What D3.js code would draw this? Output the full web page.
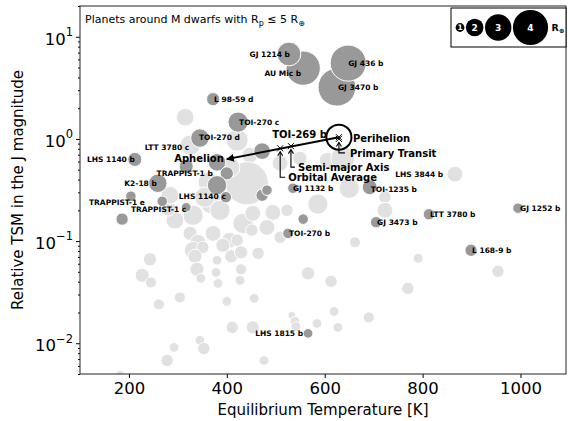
<!DOCTYPE html>
<html><head><meta charset="utf-8">
<script src="https://cdn.jsdelivr.net/npm/d3@7"></script>
<style>
body{margin:0;background:#fff}
text{font-family:"DejaVu Sans",sans-serif}
</style>
</head><body>
<svg id="c" width="568" height="421"></svg>
<script>
// ---- data ----
const namedNames = ["AU Mic b","GJ 1214 b","GJ 3470 b","GJ 436 b","L 98-59 d","TOI-270 c","TOI-270 d","LTT 3780 c","LHS 1140 b","","TRAPPIST-1 b","","K2-18 b","TRAPPIST-1 e","","TRAPPIST-1 c","LHS 1140 c","","","","GJ 1132 b","","TOI-270 b","","TOI-1235 b","GJ 3473 b","LTT 3780 b","GJ 1252 b","L 168-9 b","LHS 1815 b","LHS 3844 b"];
const namedTeq = [556,527,625,648,372,423,345,317,212,380,400,380,259,204,268,317,398,186,472,482,535,556,525,472,692,705,813,995,899,566,740];
const namedTSM = [4.93,6.78,3.21,5.52,2.45,1.46,1.02,0.54,0.63,0.59,0.46,0.352,0.368,0.275,0.245,0.214,0.269,0.164,0.281,0.315,0.329,0.164,0.119,0.759,0.337,0.153,0.183,0.210,0.0813,0.0125,0.452];
const namedRadius = [3.9,2.7,4.3,4.1,1.5,2.3,2.1,1.6,1.6,2.0,1.5,2.2,2.1,1.2,1.2,1.1,1.3,1.4,1.4,1.2,1.2,1.2,1.2,1.9,1.7,1.3,1.3,1.2,1.4,1.1,0];

const otherTeq = [315,421,325,447,509,549,605,637,441,406,362,370,355,386,331,294,280,284,433,453,451,494,482,509,523,406,372,325,341,650,723,723,662,866,586,791,954,566,613,770,619,690,584,627,331,351,335,243,227,245,339,347,380,392,421,409,429,464,429,427,378,382,304,261,400,456,533,539,541,411,453,345,353,292,278,476,182];
const otherTSM = [1.63,0.973,0.869,0.693,0.578,0.647,0.619,0.647,0.368,0.528,0.377,0.240,0.269,0.200,0.179,0.160,0.210,0.281,0.149,0.187,0.128,0.191,0.136,0.109,0.200,0.102,0.119,0.119,0.0973,0.329,0.269,0.200,0.0973,0.452,0.230,0.0678,0.0506,0.0483,0.0404,0.0344,0.0205,0.0179,0.0156,0.0143,0.0813,0.0869,0.0710,0.0662,0.0462,0.0394,0.0530,0.0432,0.0648,0.0910,0.102,0.0710,0.0776,0.0759,0.0530,0.0413,0.0494,0.0385,0.0281,0.0240,0.0257,0.0275,0.0188,0.0164,0.0146,0.0143,0.0143,0.0107,0.00889,0.00910,0.00679,0.00679,0.00484];
const otherRadius = [2.0,2.5,2.3,1.8,1.8,1.6,1.8,2.7,4.9,2.3,2.3,2.7,2.3,2.3,2.3,2.0,1.8,2.0,2.3,1.8,1.4,1.8,1.8,1.4,1.4,1.8,1.8,1.6,1.8,2.3,1.4,1.8,1.25,1.8,2.3,1.1,1.4,1.5,1.4,1.4,1.1,1.25,1.1,1.1,2.0,1.4,1.6,1.5,1.6,1.25,1.6,1.1,1.1,1.6,1.4,1.5,1.5,1.4,1.25,1.1,1.1,1.1,1.25,1.25,1.1,1.1,0.9,1.1,1.1,1.4,1.5,1.1,1.4,1.1,1.4,1.1,1.1];

// TOI-269 b orbit points
const toiNames = ["Perihelion","Primary Transit","Semi-major Axis","Orbital Average","Aphelion"];
const toiTeq = [629,629,531,509,400];
const toiTSM = [1.04,1.0,0.85,0.81,0.634];
const toiRadius = 2.85;

const xTicks = [200,400,600,800,1000];
const yTicks = [0.01,0.1,1,10];
const yTickExp = ["\u22122","\u22121","0","1"];
const legendSizes = [1,2,3,4];

// label placement (anchor, dx, dy in px)
const labelPlace = {
 "AU Mic b":["end",-2,5],"GJ 1214 b":["end",1,0],"GJ 3470 b":["start",1,0],"GJ 436 b":["start",0,0],
 "L 98-59 d":["start",1,0],"TOI-270 c":["start",1,0],"TOI-270 d":["start",-1,-1],"LTT 3780 c":["end",3,-19],
 "LHS 1140 b":["end",0,0],"TRAPPIST-1 b":["end",-14,0],"K2-18 b":["end",-1,0],"TRAPPIST-1 e":["end",14,6],
 "TRAPPIST-1 c":["end",0,2],"LHS 1140 c":["end",0,-1],"GJ 1132 b":["start",0,0],"TOI-270 b":["start",1,0],
 "TOI-1235 b":["start",1,2],"GJ 3473 b":["start",1,0],"LTT 3780 b":["start",1,0],"GJ 1252 b":["start",2,0],
 "L 168-9 b":["start",1,0],"LHS 1815 b":["end",-5,0],"LHS 3844 b":["start",2,0]
};

// ---- chart ----
const L=80,R=566,T=6,B=374;
const svg=d3.select("#c");
const x=d3.scaleLinear().domain([100,1093]).range([L,R]);
const y=d3.scaleLog().domain([0.005,20]).range([B,T]);
const rs=d3.scaleLinear().domain([0,4]).range([0,17.6]);

svg.append("clipPath").attr("id","clip").append("rect").attr("x",L).attr("y",T).attr("width",R-L).attr("height",B-T);
const plot=svg.append("g").attr("clip-path","url(#clip)");

const others=otherTeq.map((t,i)=>({t,v:otherTSM[i],r:otherRadius[i]}));
plot.selectAll("circle.o").data(others).join("circle").attr("class","o")
 .attr("cx",d=>x(d.t)).attr("cy",d=>y(d.v)).attr("r",d=>rs(d.r))
 .attr("fill","#e1e1e1").attr("stroke","#fff").attr("stroke-width",1);

const named=namedNames.map((n,i)=>({n,t:namedTeq[i],v:namedTSM[i],r:namedRadius[i]}));
plot.selectAll("circle.n").data(named.filter(d=>d.r>0)).join("circle").attr("class","n")
 .attr("cx",d=>x(d.t)).attr("cy",d=>y(d.v)).attr("r",d=>rs(d.r))
 .attr("fill","#999999").attr("stroke","#fff").attr("stroke-width",1);

plot.selectAll("text.lab").data(named.filter(d=>d.n)).join("text").attr("class","lab")
 .attr("x",d=>x(d.t)+labelPlace[d.n][1]).attr("y",d=>y(d.v)+labelPlace[d.n][2]).attr("dy","0.35em")
 .attr("text-anchor",d=>labelPlace[d.n][0])
 .attr("font-size",7.5).attr("font-weight","bold").attr("fill","#000").text(d=>d.n);

// TOI-269 b
const tp=toiNames.map((n,i)=>({n,px:x(toiTeq[i]),py:y(toiTSM[i])}));
const defs=svg.append("defs");
defs.append("marker").attr("id","ah").attr("viewBox","0 0 10 10").attr("refX",9).attr("refY",5)
 .attr("markerWidth",4).attr("markerHeight",4).attr("orient","auto-start-reverse")
 .append("path").attr("d","M0,0 L10,5 L0,10 z").attr("fill","#000");
const g2=svg.append("g");
g2.append("line").attr("x1",tp[0].px).attr("y1",tp[0].py).attr("x2",tp[4].px).attr("y2",tp[4].py)
 .attr("stroke","#000").attr("stroke-width",2).attr("marker-end","url(#ah)");
g2.append("circle").attr("cx",tp[0].px).attr("cy",tp[0].py).attr("r",rs(toiRadius))
 .attr("fill","none").attr("stroke","#000").attr("stroke-width",2);
[0,1,2,3].forEach(i=>{
  const p=tp[i],s=3;
  g2.append("path").attr("d",`M${p.px-s},${p.py-s}L${p.px+s},${p.py+s}M${p.px-s},${p.py+s}L${p.px+s},${p.py-s}`)
   .attr("stroke","#000").attr("stroke-width",1);
});
// connectors: [index, drop, label dx]
function connector(p,drop,run){
  const x0=p.px,y0=p.py+3.5,y1=p.py+drop;
  g2.append("path").attr("d",`M${x0+run},${y1}L${x0},${y1}L${x0},${y0}`).attr("fill","none").attr("stroke","#000").attr("stroke-width",1.1);
  g2.append("path").attr("d",`M${x0-2.5},${y0+4}L${x0},${y0}L${x0+2.5},${y0+4}`).attr("fill","none").attr("stroke","#000").attr("stroke-width",1.1);
}
connector(tp[1],14,6);
connector(tp[2],21,4);
connector(tp[3],29,5);
const big=(t,xx,yy,anchor)=>g2.append("text").attr("x",xx).attr("y",yy).attr("dy","0.35em").attr("text-anchor",anchor||"start")
 .attr("font-size",10).attr("font-weight","bold").text(t);
big("TOI-269 b",tp[0].px-12,tp[0].py-3,"end");
big(toiNames[0],tp[0].px+14,tp[0].py+1);
big(toiNames[1],tp[1].px+11,tp[1].py+15);
big(toiNames[2],tp[2].px+7,tp[2].py+21);
big(toiNames[3],tp[3].px+8,tp[3].py+29);
big(toiNames[4],tp[4].px-3,tp[4].py-1,"end");

// axes
const xa=svg.append("g").attr("transform",`translate(0,${B})`)
 .call(d3.axisBottom(x).tickValues(xTicks).tickSize(4).tickPadding(4).tickFormat(d3.format("d")));
xa.select(".domain").remove();
xa.selectAll("text").attr("font-size",16.5).attr("fill","#000").style("font-family","DejaVu Sans");
xa.selectAll("line").attr("stroke","#000");

const minor=[];
for(let e=-3;e<=1;e++)for(let k=2;k<=9;k++){const v=k*Math.pow(10,e);if(v>=0.005&&v<=20)minor.push(v);}
const ym=svg.append("g").attr("transform",`translate(${L},0)`).call(d3.axisLeft(y).tickValues(minor).tickSize(2).tickFormat(""));
ym.select(".domain").remove(); ym.selectAll("line").attr("stroke","#000");
const ya=svg.append("g").attr("transform",`translate(${L},0)`).call(d3.axisLeft(y).tickValues(yTicks).tickSize(4).tickFormat(""));
ya.select(".domain").remove(); ya.selectAll("line").attr("stroke","#000");
ya.selectAll(".tick").each(function(d,i){
  const t=d3.select(this).append("text").attr("x",-7).attr("y",0).attr("dy","0.45em").attr("text-anchor","end")
   .attr("fill","#000").attr("font-size",16.5).style("font-family","DejaVu Sans");
  t.append("tspan").text("10");
  t.append("tspan").attr("font-size",11.5).attr("dy","-0.75em").text(yTickExp[i]);
});

svg.append("rect").attr("x",L).attr("y",T).attr("width",R-L).attr("height",B-T).attr("fill","none").attr("stroke","#222").attr("stroke-width",1);

svg.append("text").attr("x",(L+R)/2).attr("y",415).attr("text-anchor","middle").attr("font-size",15).text("Equilibrium Temperature [K]");
svg.append("text").attr("transform",`translate(23,${(T+B)/2}) rotate(-90)`).attr("text-anchor","middle").attr("font-size",15).text("Relative TSM in the J magnitude");

// title
const tt=svg.append("text").attr("x",85).attr("y",23).attr("font-size",11);
tt.append("tspan").text("Planets around M dwarfs with R");
tt.append("tspan").attr("font-size",8).attr("dy",2.5).text("p");
tt.append("tspan").attr("dy",-2.5).text(" \u2264 5 R");
tt.append("tspan").attr("font-size",8).attr("dy",2.5).text("\u2295");

// legend
const lg=svg.append("g");
lg.append("rect").attr("x",451).attr("y",8).attr("width",115).attr("height",39).attr("fill","#fff").attr("stroke","#000").attr("stroke-width",1);
let cx=455.6;const cy=27.5;
legendSizes.forEach(s=>{
  const rr=rs(s);cx+=rr;
  lg.append("circle").attr("cx",cx).attr("cy",cy).attr("r",rr).attr("fill","#000");
  lg.append("text").attr("x",cx).attr("y",cy).attr("dy","0.35em").attr("text-anchor","middle")
   .attr("fill","#fff").attr("font-weight","bold").attr("font-size",s===1?7.5:9).text(s);
  cx+=rr+1.5;
});
const lr=lg.append("text").attr("x",cx+2).attr("y",cy).attr("dy","0.35em").attr("font-weight","bold").attr("font-size",9.5);
lr.append("tspan").text("R");
lr.append("tspan").attr("font-size",6.5).attr("dy",2).text("\u2295");
</script>
</body></html>
